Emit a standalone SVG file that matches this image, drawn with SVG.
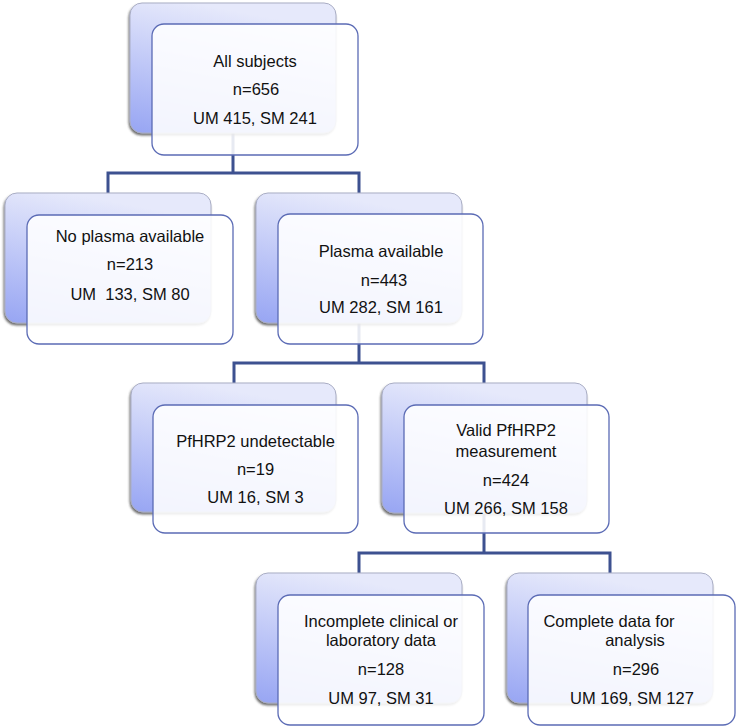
<svg xmlns="http://www.w3.org/2000/svg" width="737" height="727" viewBox="0 0 737 727">
<style>
.back{fill:url(#bg);stroke:#a9adc4;stroke-width:1;filter:url(#sh)}
.front{fill:#ffffff;fill-opacity:0.88;stroke:#5b6bb5;stroke-width:1.3}
.conn{fill:none;stroke:#3d5190;stroke-width:3}
text{font-family:"Liberation Sans",Arial,sans-serif;font-size:16.5px;fill:#111;text-anchor:middle}
</style>
<defs>
<linearGradient id="bg" x1="0.3" y1="0" x2="0" y2="1">
<stop offset="0" stop-color="#e6e9fb"/>
<stop offset="1" stop-color="#97a5f3"/>
</linearGradient>
<filter id="sh" x="-10%" y="-10%" width="120%" height="125%">
<feDropShadow dx="-1" dy="2" stdDeviation="1.2" flood-color="#333" flood-opacity="0.7"/>
</filter>
</defs>
<g id="connectors">
<path class="conn" d="M233,133 V173 M108,193 V173 H359 V193"/>
<path class="conn" d="M359,323 V363 M234,383 V363 H484 V383"/>
<path class="conn" d="M484,513 V553 M359,573 V553 H610 V573"/>
</g>
<g id="n-all">
<rect class="back" x="130" y="3" width="206" height="130" rx="12"/>
<rect class="front" x="152" y="24" width="206" height="131" rx="12"/>
<text x="255" y="67">All subjects</text>
<text x="256" y="95">n=656</text>
<text x="255" y="124">UM 415, SM 241</text>
</g>
<g id="n-noplasma">
<rect class="back" x="5" y="193" width="206" height="130" rx="12"/>
<rect class="front" x="27" y="215" width="206" height="129" rx="12"/>
<text x="130" y="242">No plasma available</text>
<text x="130" y="270">n=213</text>
<text x="130" y="300" xml:space="preserve">UM  133, SM 80</text>
</g>
<g id="n-plasma">
<rect class="back" x="256" y="193" width="206" height="130" rx="12"/>
<rect class="front" x="278" y="214" width="205" height="130" rx="12"/>
<text x="381" y="257">Plasma available</text>
<text x="384" y="286">n=443</text>
<text x="381" y="313">UM 282, SM 161</text>
</g>
<g id="n-undetectable">
<rect class="back" x="131" y="383" width="205" height="129" rx="12"/>
<rect class="front" x="153" y="405" width="205" height="128" rx="12"/>
<text x="255.5" y="447">PfHRP2 undetectable</text>
<text x="255.5" y="475">n=19</text>
<text x="255.5" y="503">UM 16, SM 3</text>
</g>
<g id="n-valid">
<rect class="back" x="382" y="383" width="205" height="130" rx="12"/>
<rect class="front" x="404" y="405" width="205" height="128" rx="12"/>
<text x="506" y="436">Valid PfHRP2</text>
<text x="506" y="457">measurement</text>
<text x="506" y="486">n=424</text>
<text x="506" y="514">UM 266, SM 158</text>
</g>
<g id="n-incomplete">
<rect class="back" x="256" y="573" width="206" height="130" rx="12"/>
<rect class="front" x="278" y="595" width="206" height="130" rx="12"/>
<text x="381" y="627">Incomplete clinical or</text>
<text x="381" y="646">laboratory data</text>
<text x="381" y="675">n=128</text>
<text x="381" y="704">UM 97, SM 31</text>
</g>
<g id="n-complete">
<rect class="back" x="507" y="573" width="206" height="130" rx="12"/>
<rect class="front" x="528" y="595" width="207" height="130" rx="12"/>
<text x="609" y="627">Complete data for</text>
<text x="635" y="646">analysis</text>
<text x="636" y="675">n=296</text>
<text x="632" y="704">UM 169, SM 127</text>
</g>
</svg>
